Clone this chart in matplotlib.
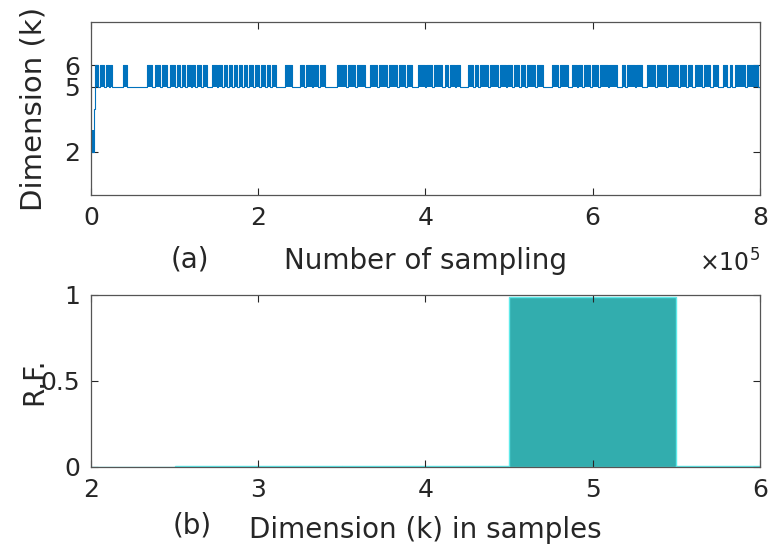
import numpy as np
import matplotlib.pyplot as plt

# --- data (sample number in units of 1e5) ---
# burn-in part before the chain settles
init_t = [0.0, 0.005, 0.010, 0.015, 0.020, 0.025, 0.030, 0.035, 0.040, 0.046]
init_k = [3, 2, 3, 2, 3, 2, 3, 2, 4, 5]

# stretches where the chain sits at k = 6 (otherwise k = 5)
six_runs = [(0.048, 0.084), (0.108, 0.156), (0.179, 0.210), (0.230, 0.251),
            (0.383, 0.431), (0.670, 0.730), (0.766, 0.825), (0.849, 0.909),
            (0.945, 1.005), (1.029, 1.070), (1.090, 1.124), (1.148, 1.190),
            (1.210, 1.244), (1.268, 1.320), (1.340, 1.388), (1.447, 1.507),
            (1.519, 1.570), (1.590, 1.627), (1.647, 1.690), (1.710, 1.746),
            (1.766, 1.810), (1.830, 1.866), (1.886, 1.940), (1.960, 2.010),
            (2.033, 2.080), (2.100, 2.141), (2.161, 2.213), (2.321, 2.404),
            (2.500, 2.548), (2.568, 2.640), (2.660, 2.720), (2.740, 2.799),
            (2.943, 3.050), (3.070, 3.160), (3.180, 3.278), (3.337, 3.420),
            (3.440, 3.541), (3.561, 3.660), (3.680, 3.760), (3.780, 3.840),
            (3.911, 3.990), (4.010, 4.079), (4.103, 4.199), (4.234, 4.270),
            (4.294, 4.350), (4.370, 4.414), (4.510, 4.570), (4.590, 4.629),
            (4.653, 4.750), (4.770, 4.868), (4.892, 4.960), (4.980, 5.036),
            (5.056, 5.120), (5.140, 5.191), (5.215, 5.311), (5.335, 5.407),
            (5.514, 5.586), (5.610, 5.706), (5.754, 5.810), (5.830, 5.873),
            (5.893, 5.970), (5.990, 6.065), (6.089, 6.180), (6.200, 6.292),
            (6.352, 6.388), (6.411, 6.500), (6.520, 6.591), (6.651, 6.750),
            (6.770, 6.880), (6.900, 7.022), (7.045, 7.120), (7.140, 7.189),
            (7.225, 7.310), (7.330, 7.404), (7.440, 7.500), (7.560, 7.608),
            (7.644, 7.667), (7.703, 7.820), (7.840, 7.978)]
n_total = 8.0

# relative frequency of each dimension
dims = [2, 3, 4, 5, 6]
rel_freq = [0.0, 0.003, 0.003, 0.988, 0.004]

# build the trace as a step signal
t = list(init_t)
k = list(init_k)
for a, b in six_runs:
    t += [a, b]
    k += [6, 5]
t.append(n_total)
k.append(5)
t = np.array(t)
k = np.array(k, dtype=float)

blue = '#0072BD'
axcol = '#262626'
plt.rcParams['font.family'] = 'DejaVu Sans'

fig = plt.figure(figsize=(7.68, 5.48), dpi=100)
ax1 = fig.add_axes([0.1185, 0.644, 0.871, 0.316])
ax2 = fig.add_axes([0.1185, 0.148, 0.871, 0.314])

# (a) trace
ax1.fill_between(t, 5, np.maximum(k, 5), step='post', color=blue, lw=0)
ax1.step(t, k, where='post', color=blue, lw=0.8)
ax1.set_xlim(0, 8)
ax1.set_ylim(0, 8)
ax1.set_xticks([0, 2, 4, 6, 8])
ax1.set_yticks([2, 5, 6])
ax1.set_ylabel('Dimension (k)', fontsize=21, color=axcol, labelpad=12)
ax1.set_xlabel('Number of sampling', fontsize=20, color=axcol, labelpad=12)
ax1.text(0.148, -0.37, '(a)', transform=ax1.transAxes, fontsize=20,
         color=axcol, ha='center', va='center')
ax1.text(1.0, -0.39, r'$\times10^5$', transform=ax1.transAxes, fontsize=17,
         color=axcol, ha='right', va='center')

# (b) histogram
ax2.bar(dims, rel_freq, width=1.0, color='#32ADAE', edgecolor='#5EEAEA', lw=1.0)
ax2.set_xlim(2, 6)
ax2.set_ylim(0, 1)
ax2.set_xticks(dims)
ax2.set_yticks([0, 0.5, 1])
ax2.set_yticklabels(['0', '0.5', '1'])
ax2.set_ylabel('R.F.', fontsize=20, color=axcol, labelpad=-6)
ax2.set_xlabel('Dimension (k) in samples', fontsize=20, color=axcol, labelpad=10)
ax2.text(0.152, -0.34, '(b)', transform=ax2.transAxes, fontsize=20,
         color=axcol, ha='center', va='center')

for ax in (ax1, ax2):
    ax.tick_params(direction='in', length=5, width=0.8, top=True, right=True,
                   labelsize=18, colors=axcol, pad=8)
    for sp in ax.spines.values():
        sp.set_color('#555555')
        sp.set_linewidth(0.9)

fig.savefig('out.png', dpi=100)
